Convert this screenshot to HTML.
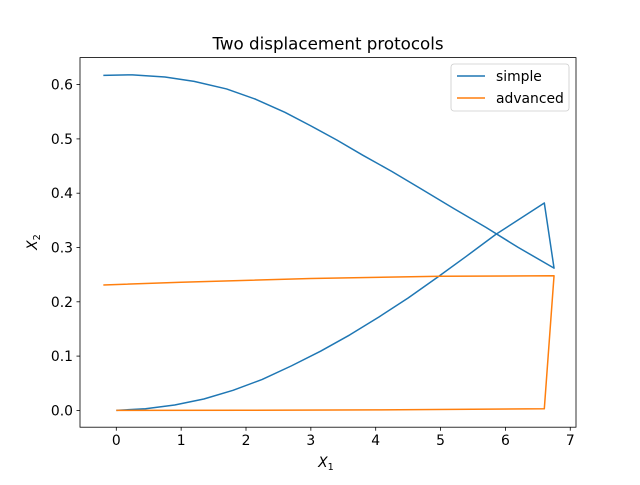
<!DOCTYPE html>
<html><head><meta charset="utf-8"><style>
body{margin:0;background:#fff;}
svg{font-family:"DejaVu Sans","Liberation Sans",sans-serif;}
</style></head><body>
<svg id="chart" width="640" height="480" viewBox="0 0 640 480">
<rect width="640" height="480" fill="#fff"/>
<text x="328" y="49.5" font-size="16.7" text-anchor="middle">Two displacement protocols</text>
<g id="plot"></g>
<rect x="80" y="57.6" width="496" height="369.6" fill="none" stroke="#000" stroke-width="0.8"/>
<text x="326" y="467" font-size="13.9" text-anchor="middle" font-style="italic">X<tspan font-size="9.7" dy="3" font-style="normal">1</tspan></text>
<text transform="translate(37,242) rotate(-90)" font-size="13.9" text-anchor="middle" font-style="italic">X<tspan font-size="9.7" dy="3" font-style="normal">2</tspan></text>
<g>
<rect x="451" y="64" width="118" height="47" rx="3" fill="#fff" fill-opacity="0.8" stroke="#ccc" stroke-width="0.8"/>
<line x1="457" y1="76" x2="485" y2="76" stroke="#1f77b4" stroke-width="1.5"/>
<text x="496" y="81" font-size="13.9">simple</text>
<line x1="457" y1="98" x2="485" y2="98" stroke="#ff7f0e" stroke-width="1.5"/>
<text x="496" y="103" font-size="13.9">advanced</text>
</g>
</svg>
<script>
const xTicks=[0,1,2,3,4,5,6,7];
const yTicks=[0.0,0.1,0.2,0.3,0.4,0.5,0.6];
const simpleX=[0,0.45,0.9,1.35,1.8,2.25,2.7,3.15,3.6,4.05,4.5,4.95,5.4,5.85,6.6,6.75,6.2,5.7,5.2,4.7,4.25,3.8,3.4,3.0,2.6,2.15,1.7,1.2,0.75,0.25,-0.2];
const simpleY=[0,0.003,0.01,0.021,0.037,0.057,0.082,0.109,0.139,0.172,0.207,0.245,0.284,0.324,0.382,0.262,0.30,0.337,0.372,0.408,0.44,0.47,0.498,0.524,0.549,0.573,0.592,0.606,0.614,0.618,0.617];
const advX=[0,2,4,6.6,6.75,5,3,1,-0.2];
const advY=[0,0.0003,0.001,0.003,0.248,0.247,0.243,0.236,0.231];
const xs=v=>116.3+v*64.85;
const ys=v=>410.4-v*543;
const ns="http://www.w3.org/2000/svg";
const g=document.getElementById('plot');
function mk(t,a){const e=document.createElementNS(ns,t);for(const k in a)e.setAttribute(k,a[k]);g.appendChild(e);return e;}
xTicks.forEach(t=>{
  const l=mk('line',{x1:xs(t),x2:xs(t),y1:427.2,y2:430.7,stroke:'#000','stroke-width':0.8});
  
  
  const tx=mk('text',{x:xs(t),y:445,'font-size':13.9,'text-anchor':'middle'});tx.textContent=t;
  
  
});
yTicks.forEach(t=>{
  const l=mk('line',{x1:76.5,x2:80,y1:ys(t),y2:ys(t),stroke:'#000','stroke-width':0.8});
  
  
  const tx=mk('text',{x:73,y:ys(t)+5,'font-size':13.9,'text-anchor':'end'});tx.textContent=t.toFixed(1);
  
  
});
function line(X,Y,c,name){
  const p=mk('polyline',{points:X.map((x,i)=>xs(x)+','+ys(Y[i])).join(' '),fill:'none',stroke:c,'stroke-width':1.5,'stroke-linejoin':'round'});
  
  
}
line(simpleX,simpleY,'#1f77b4','series-simple');
line(advX,advY,'#ff7f0e','series-advanced');
</script>
</body></html>
